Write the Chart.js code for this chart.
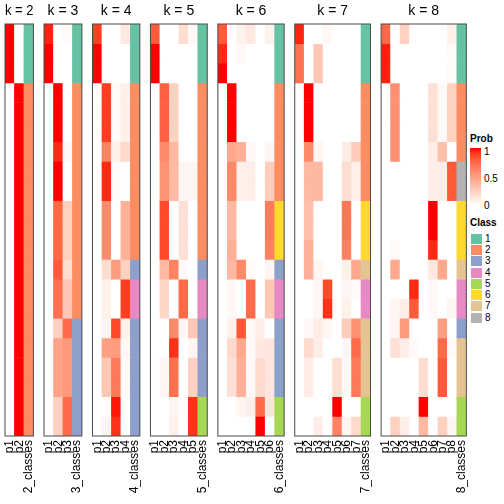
<!DOCTYPE html>
<html>
<head>
<meta charset="utf-8">
<script src="https://cdn.jsdelivr.net/npm/chart.js@4.4.1/dist/chart.umd.min.js"></script>
<style>
  body { margin: 0; background: #fff; font-family: 'Liberation Sans', Arial, sans-serif; }
  #wrap { position: relative; width: 504px; height: 504px; overflow: hidden; }
  #wrap canvas { position: absolute; left: 0; top: 0; }
  .lg { position: absolute; font-size: 10px; line-height: 12px; color: #000; white-space: nowrap; }
  .lg.b { font-weight: bold; }
  .sw { position: absolute; width: 11px; height: 10px; }
</style>
</head>
<body>
<div id="wrap">
  <div class="lg b" style="left:470px;top:133px">Prob</div>
  <div id="bar" style="position:absolute;left:470px;top:148px;width:11px;height:57px"></div>
  <div class="lg" style="left:484px;top:146px">1</div>
  <div class="lg" style="left:484px;top:173px">0.5</div>
  <div class="lg" style="left:484px;top:200px">0</div>
  <div class="lg b" style="left:470px;top:217px">Class</div>
  <div id="classLegend"></div>
</div>
<script>
// ---------- DATA ----------
const classNames = ['1', '2', '3', '4', '5', '6', '7', '8'];
const classColors = ['#66C2A5', '#FC8D62', '#8DA0CB', '#E78AC3', '#A6D854', '#FFD92F', '#E5C494', '#B3B3B3'];

// one row per sample, one value per column p1..pk
const probK2 = [
  [1, 0], [1, 0], [1, 0],
  [0, 1], [0, 1], [0, 1], [0, 1], [0, 1], [0, 1], [0, 1], [0, 1], [0, 1],
  [0, 1], [0, 1], [0, 1], [0, 1], [0, 1], [0, 1], [0, 1], [0, 1], [0, 1]
];
const classK2 = [1, 1, 1, 2, 2, 2, 2, 2, 2, 2, 2, 2, 2, 2, 2, 2, 2, 2, 2, 2, 2];

const probK3 = [
  [0.96, 0, 0.03], [1, 0, 0], [1, 0, 0],
  [0, 1, 0], [0, 1, 0], [0, 1, 0], [0, 0.95, 0.035], [0, 1, 0], [0, 1, 0],
  [0, 0.75, 0.24], [0, 0.75, 0.24], [0, 0.75, 0.24], [0, 0.8, 0.18],
  [0, 0.71, 0.29], [0, 0.71, 0.29], [0, 0.24, 0.74],
  [0, 0.47, 0.53], [0, 0.47, 0.53], [0, 0.47, 0.53],
  [0, 0.24, 0.74], [0, 0.24, 0.74]
];
const classK3 = [1, 1, 1, 2, 2, 2, 2, 2, 2, 2, 2, 2, 2, 2, 2, 3, 3, 3, 3, 3, 3];

const probK4 = [
  [0.9, 0, 0, 0.12], [1, 0, 0, 0], [1, 0, 0, 0],
  [0, 0.9, 0.025, 0.08], [0, 0.9, 0.025, 0.08], [0, 0.9, 0.025, 0.08],
  [0, 0.63, 0.08, 0.2], [0, 0.95, 0.03, 0], [0, 0.95, 0.03, 0],
  [0, 0.59, 0, 0.4], [0, 0.59, 0, 0.4], [0, 0.59, 0, 0.4],
  [0, 0.18, 0.51, 0.24], [0, 0.08, 0, 0.9], [0, 0.08, 0, 0.9],
  [0, 0.05, 0.86, 0.08], [0, 0.49, 0.51, 0.035],
  [0, 0.29, 0.68, 0.035], [0, 0.29, 0.68, 0.035],
  [0, 0, 0.98, 0], [0, 0.05, 0.93, 0]
];
const classK4 = [1, 1, 1, 2, 2, 2, 2, 2, 2, 2, 2, 2, 3, 4, 4, 3, 3, 3, 3, 3, 3];

const probK5 = [
  [0.8, 0, 0, 0.18, 0.035], [1, 0, 0, 0, 0], [1, 0, 0, 0, 0],
  [0, 0.78, 0.24, 0, 0], [0, 0.78, 0.24, 0, 0], [0, 0.78, 0.24, 0, 0],
  [0, 0.6, 0.37, 0, 0], [0, 0.55, 0.37, 0.05, 0.05], [0, 0.55, 0.37, 0.05, 0.05],
  [0, 0.86, 0, 0.16, 0], [0, 0.86, 0, 0.16, 0], [0, 0.86, 0, 0.16, 0],
  [0, 0.37, 0.63, 0.025, 0], [0, 0.22, 0, 0.74, 0], [0, 0.22, 0, 0.74, 0],
  [0, 0, 0.6, 0.05, 0.29], [0, 0, 0.93, 0, 0.05],
  [0, 0.05, 0.71, 0, 0.24], [0, 0.05, 0.71, 0, 0.24],
  [0, 0, 0.05, 0, 0.93], [0, 0, 0.08, 0, 0.93]
];
const classK5 = [1, 1, 1, 2, 2, 2, 2, 2, 2, 2, 2, 2, 3, 4, 4, 3, 3, 3, 3, 5, 5];

const probK6 = [
  [0.8, 0, 0.07, 0.12, 0, 0.07], [0.95, 0, 0.035, 0, 0, 0], [1, 0, 0, 0, 0, 0],
  [0, 1, 0, 0, 0, 0], [0, 1, 0, 0, 0, 0], [0, 1, 0, 0, 0, 0],
  [0, 0.45, 0.41, 0.035, 0, 0.05], [0, 0.6, 0.08, 0.09, 0, 0.27], [0, 0.6, 0.08, 0.09, 0, 0.27],
  [0, 0.37, 0, 0, 0, 0.66], [0, 0.37, 0, 0, 0, 0.66], [0, 0.41, 0, 0, 0, 0.64],
  [0, 0.37, 0.6, 0.025, 0, 0.05], [0, 0.035, 0, 0.74, 0, 0.29], [0, 0.035, 0, 0.74, 0, 0.29],
  [0, 0.08, 0.82, 0.035, 0.09, 0], [0, 0.2, 0.45, 0.025, 0.12, 0.13],
  [0, 0.16, 0.41, 0.035, 0.2, 0.13], [0, 0.16, 0.41, 0.035, 0.2, 0.13],
  [0, 0, 0.05, 0.08, 0.74, 0.13], [0, 0, 0, 0, 1, 0]
];
const classK6 = [1, 1, 1, 2, 2, 2, 2, 2, 2, 6, 6, 6, 3, 4, 4, 3, 3, 3, 3, 5, 5];

const probK7 = [
  [0.96, 0, 0, 0.035, 0, 0, 0], [0.71, 0, 0.29, 0, 0, 0, 0], [0.71, 0, 0.29, 0, 0, 0, 0],
  [0, 1, 0, 0, 0, 0, 0], [0, 1, 0, 0, 0, 0, 0], [0, 1, 0, 0, 0, 0, 0],
  [0, 0.6, 0.05, 0, 0, 0.1, 0.27], [0, 0.37, 0.37, 0, 0, 0.18, 0.08], [0, 0.37, 0.37, 0, 0, 0.18, 0.08],
  [0, 0.33, 0, 0, 0, 0.68, 0], [0, 0.33, 0, 0, 0, 0.68, 0], [0, 0.41, 0, 0, 0, 0.64, 0],
  [0, 0.41, 0.05, 0, 0, 0.08, 0.45], [0, 0, 0.05, 0.86, 0, 0.05, 0.025], [0, 0, 0.05, 0.93, 0, 0.08, 0],
  [0, 0.035, 0.1, 0.05, 0, 0.27, 0.57], [0, 0.2, 0.09, 0, 0, 0.035, 0.74],
  [0, 0.1, 0, 0, 0.18, 0.025, 0.68], [0, 0.1, 0, 0, 0.18, 0.025, 0.68],
  [0, 0, 0, 0, 1, 0, 0], [0, 0, 0.09, 0, 0.63, 0.05, 0.2]
];
const classK7 = [1, 1, 1, 2, 2, 2, 2, 2, 2, 6, 6, 6, 7, 4, 4, 7, 7, 7, 7, 5, 5];

const probK8 = [
  [0.75, 0, 0.24, 0, 0, 0, 0, 0.08], [0.97, 0, 0, 0, 0, 0, 0, 0.025], [0.97, 0, 0, 0, 0, 0, 0, 0.025],
  [0, 0.57, 0, 0, 0, 0.16, 0.025, 0.24], [0, 0.57, 0, 0, 0, 0.16, 0.025, 0.24], [0, 0.57, 0, 0, 0, 0.16, 0.025, 0.24],
  [0, 0.57, 0, 0, 0, 0.1, 0.33, 0], [0, 0, 0, 0, 0, 0.09, 0.09, 0.8], [0, 0, 0, 0, 0, 0.09, 0.09, 0.8],
  [0, 0, 0, 0, 0, 1, 0, 0], [0, 0, 0, 0, 0, 1, 0, 0], [0, 0.025, 0, 0, 0, 0.95, 0, 0],
  [0, 0.45, 0, 0, 0, 0.12, 0.45, 0], [0, 0, 0, 0.95, 0, 0.035, 0, 0], [0, 0.05, 0.09, 0.8, 0, 0.035, 0, 0.05],
  [0, 0.05, 0.52, 0, 0, 0, 0.5, 0], [0, 0.16, 0.09, 0.025, 0, 0, 0.74, 0.025],
  [0, 0, 0, 0, 0.18, 0, 0.8, 0], [0, 0, 0, 0, 0.18, 0, 0.8, 0],
  [0, 0, 0, 0, 1, 0, 0, 0], [0, 0.24, 0.09, 0, 0.36, 0, 0.24, 0.05]
];
const classK8 = [1, 1, 1, 2, 2, 2, 2, 8, 8, 6, 6, 6, 7, 4, 4, 3, 7, 7, 7, 5, 5];

const panels = [
  { k: 2, probs: probK2, classes: classK2 },
  { k: 3, probs: probK3, classes: classK3 },
  { k: 4, probs: probK4, classes: classK4 },
  { k: 5, probs: probK5, classes: classK5 },
  { k: 6, probs: probK6, classes: classK6 },
  { k: 7, probs: probK7, classes: classK7 },
  { k: 8, probs: probK8, classes: classK8 }
];

// ---------- COLOURS ----------
// white -> red, interpolated in LAB like colorRamp2
function probColor(v) {
  const L = 100 + (53.2408 - 100) * v, A = 80.0925 * v, B = 67.2032 * v;
  const fy = (L + 16) / 116, fx = fy + A / 500, fz = fy - B / 200;
  const f = t => (t * t * t > 0.008856 ? t * t * t : (t - 16 / 116) / 7.787);
  const X = 0.95047 * f(fx), Y = f(fy), Z = 1.08883 * f(fz);
  const r = 3.2406 * X - 1.5372 * Y - 0.4986 * Z;
  const g = -0.9689 * X + 1.8758 * Y + 0.0415 * Z;
  const b = 0.0557 * X - 0.2040 * Y + 1.0570 * Z;
  const gam = c => {
    c = Math.min(1, Math.max(0, c));
    return Math.round(255 * (c > 0.0031308 ? 1.055 * Math.pow(c, 1 / 2.4) - 0.055 : 12.92 * c));
  };
  return 'rgb(' + gam(r) + ',' + gam(g) + ',' + gam(b) + ')';
}

// ---------- LEGEND ----------
const stops = [];
for (let i = 0; i <= 10; i++) stops.push(probColor(1 - i / 10) + ' ' + (i * 10) + '%');
document.getElementById('bar').style.background = 'linear-gradient(to bottom,' + stops.join(',') + ')';

const classLegend = document.getElementById('classLegend');
classNames.forEach((name, i) => {
  const top = 234 + i * 11.24;
  const sw = document.createElement('div');
  sw.className = 'sw';
  sw.style.left = '471px';
  sw.style.top = top + 'px';
  sw.style.background = classColors[i];
  classLegend.appendChild(sw);
  const lb = document.createElement('div');
  lb.className = 'lg';
  lb.style.left = '485px';
  lb.style.top = (top - 1) + 'px';
  lb.textContent = name;
  classLegend.appendChild(lb);
});

// ---------- HEATMAP PANELS ----------
Chart.defaults.font.family = "'Liberation Sans', Arial, sans-serif";
Chart.defaults.color = '#000';

const colWidth = 9.47;
const panelGap = 10.6;
const nRows = 21;

const borderPlugin = {
  id: 'panelBorder',
  afterDatasetsDraw(chart) {
    const a = chart.chartArea;
    const ctx = chart.ctx;
    ctx.save();
    ctx.strokeStyle = '#4a4a4a';
    ctx.lineWidth = 1;
    ctx.strokeRect(a.left, a.top, a.right - a.left, a.bottom - a.top);
    ctx.restore();
  }
};

let left = 5;
const wrap = document.getElementById('wrap');
panels.forEach(p => {
  const labels = [];
  for (let i = 1; i <= p.k; i++) labels.push('p' + i);
  labels.push(p.k + '_classes');
  const width = labels.length * colWidth;

  const canvas = document.createElement('canvas');
  canvas.width = 504;
  canvas.height = 504;
  wrap.appendChild(canvas);

  const datasets = p.probs.map((row, r) => ({
    data: labels.map(() => 1),
    backgroundColor: row.map(probColor).concat(classColors[p.classes[r] - 1]),
    borderWidth: 0,
    barPercentage: 1,
    categoryPercentage: 1
  }));

  new Chart(canvas, {
    type: 'bar',
    data: { labels: labels, datasets: datasets },
    plugins: [borderPlugin],
    options: {
      responsive: false,
      animation: false,
      devicePixelRatio: 1,
      layout: { padding: { left: left, right: 504 - left - width, top: 0, bottom: 0 } },
      plugins: {
        legend: { display: false },
        tooltip: { enabled: false },
        title: {
          display: true,
          text: 'k = ' + p.k,
          font: { size: 14, weight: 'normal' },
          padding: { top: 3.2, bottom: 4 }
        }
      },
      scales: {
        x: {
          stacked: true,
          grid: { display: false, drawTicks: false },
          border: { display: false },
          ticks: { autoSkip: false, minRotation: 90, maxRotation: 90, padding: 4, font: { size: 12 } },
          afterFit(scale) {
            scale.height = 68;
            scale.paddingLeft = 0;
            scale.paddingRight = 0;
          }
        },
        y: { stacked: true, display: false, min: 0, max: nRows, reverse: true }
      }
    }
  });
  left += width + panelGap;
});
</script>
</body>
</html>
